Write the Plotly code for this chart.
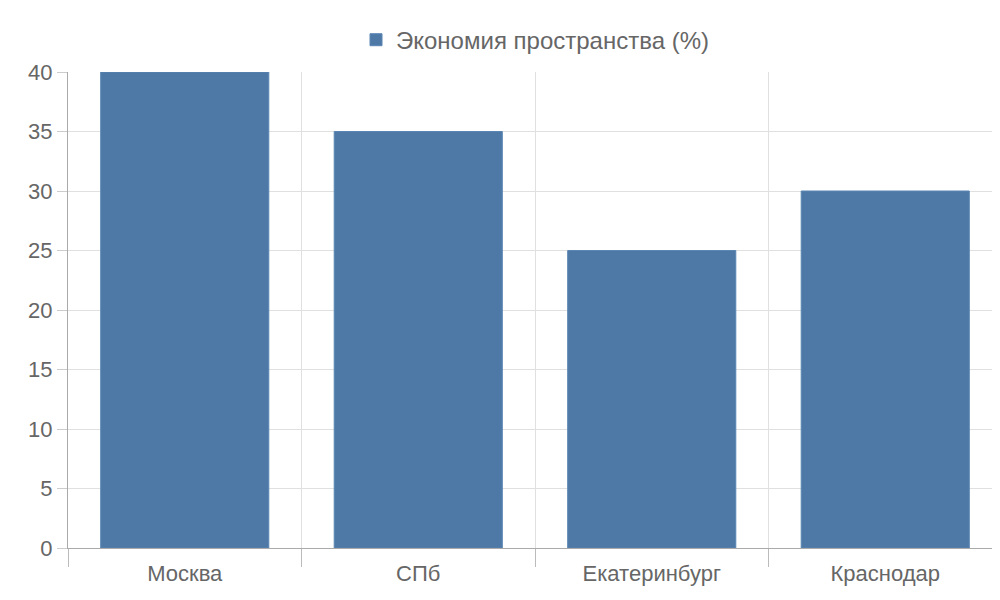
import plotly.graph_objects as go

categories = ["Москва", "СПб", "Екатеринбург", "Краснодар"]
values = [40, 35, 25, 30]
series_name = "Экономия пространства (%)"

font = "Liberation Sans, Arial, sans-serif"
fig = go.Figure()
fig.add_trace(go.Bar(x=list(range(len(categories))), y=values, name=series_name,
                     marker=dict(color="#4e79a7", line=dict(color="#5a86b3", width=1)),
                     width=0.72))
fig.add_trace(go.Scatter(x=[-0.5, len(categories) - 0.5], y=[0, 0], xaxis="x2",
                         mode="lines", line=dict(width=0), showlegend=False, hoverinfo="skip"))
fig.update_layout(
    width=1000, height=600, plot_bgcolor="white", paper_bgcolor="white",
    margin=dict(l=60, r=6, t=64, b=60, autoexpand=False),
    font=dict(family=font, size=22, color="#666"),
    legend=dict(orientation="h", x=0.5, xanchor="center", y=1.067, yanchor="middle",
                font=dict(size=24, color="#666")),
    xaxis=dict(range=[-0.5, len(categories) - 0.5], tickvals=list(range(len(categories))),
               ticktext=categories, showgrid=False, ticks="", showline=True,
               linecolor="#aaa", zeroline=False, ticklabelstandoff=6, automargin=False),
    xaxis2=dict(overlaying="x", anchor="y", side="bottom", range=[-0.5, len(categories) - 0.5],
                tickvals=[i - 0.5 for i in range(len(categories) + 1)], showticklabels=False,
                showgrid=True, gridcolor="#e0e0e0", ticks="outside", ticklen=18,
                tickcolor="#bbb", zeroline=False, layer="below traces", automargin=False),
    yaxis=dict(range=[0, 40], dtick=5, showgrid=True, gridcolor="#e0e0e0", ticks="outside",
               ticklen=10, tickcolor="#ccc", showline=True, linecolor="#aaa", zeroline=False,
               automargin=False, tickfont=dict(size=22)),
)
fig.write_html("out.html")
